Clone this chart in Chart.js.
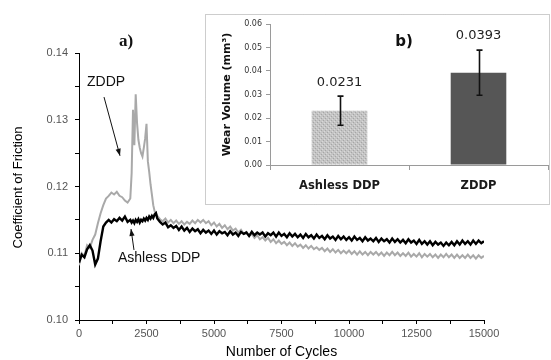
<!DOCTYPE html>
<html><head><meta charset="utf-8">
<script src="https://cdn.jsdelivr.net/npm/chart.js@4.4.0/dist/chart.umd.min.js"></script>
<style>
html,body{margin:0;padding:0;background:#fff;}
#wrap{position:relative;width:551px;height:360px;overflow:hidden;background:#fff;}
#main{position:absolute;left:0;top:0;}
#inset{position:absolute;left:205px;top:14px;}
</style></head><body>
<div id="wrap">
<canvas id="main" width="551" height="360"></canvas>
<canvas id="inset" width="346" height="192"></canvas>
</div>
<script>
// ---- panel a) : coefficient of friction vs number of cycles ----
const cycles = [
0,100,200,300,400,500,600,700,800,900,1000,1100,1200,1300,1400,1500,1600,1700,1800,1900,
1950,2000,2050,2100,2150,2200,2250,2300,2350,2400,2450,2500,2550,2600,2650,2700,2750,2800,2850,
2900,3000,3100,3200,3300,3400,3500,3600,3700,3800,
3900,4000,4100,4200,4300,4400,4500,4600,4700,4800,
4900,5000,5100,5200,5300,5400,5500,5600,5700,5800,
5900,6000,6100,6200,6300,6400,6500,6600,6700,6800,
6900,7000,7100,7200,7300,7400,7500,7600,7700,7800,
7900,8000,8100,8200,8300,8400,8500,8600,8700,8800,
8900,9000,9100,9200,9300,9400,9500,9600,9700,9800,
9900,10000,10100,10200,10300,10400,10500,10600,10700,10800,
10900,11000,11100,11200,11300,11400,11500,11600,11700,11800,
11900,12000,12100,12200,12300,12400,12500,12600,12700,12800,
12900,13000,13100,13200,13300,13400,13500,13600,13700,13800,
13900,14000,14100,14200,14300,14400,14500,14600,14700,14800,
14900,15000
];
const ashlessCof = [
0.1086,0.1098,0.1094,0.1106,0.1112,0.1104,0.1083,0.1092,0.1118,0.1140,0.1146,0.1150,0.1146,0.1151,0.1148,0.1153,0.1149,0.1155,0.1147,0.1150,
0.1146,0.1149,0.1145,0.1150,0.1147,0.1151,0.1146,0.1150,0.1148,0.1152,0.1149,0.1153,0.1150,0.1155,0.1152,0.1156,0.1153,0.1158,0.1160,
0.1152,0.1147,0.1143,0.1146,0.1139,0.1142,0.1138,0.1141,0.1135,0.1140,
0.1134,0.1138,0.1132,0.1137,0.1133,0.1136,0.1130,0.1135,0.1131,0.1134,
0.1129,0.1134,0.1128,0.1133,0.1130,0.1132,0.1127,0.1133,0.1128,0.1131,
0.1126,0.1132,0.1129,0.1131,0.1126,0.1132,0.1127,0.1131,0.1128,0.1131,
0.1125,0.1130,0.1127,0.1131,0.1125,0.1131,0.1126,0.1129,0.1124,0.1130,
0.1125,0.1129,0.1124,0.1128,0.1123,0.1129,0.1124,0.1127,0.1122,0.1128,
0.1123,0.1126,0.1121,0.1127,0.1122,0.1125,0.1120,0.1126,0.1121,0.1125,
0.1120,0.1124,0.1119,0.1125,0.1120,0.1123,0.1118,0.1124,0.1119,0.1122,
0.1118,0.1123,0.1117,0.1122,0.1118,0.1121,0.1116,0.1122,0.1117,0.1121,
0.1116,0.1120,0.1115,0.1121,0.1116,0.1119,0.1114,0.1120,0.1114,0.1118,
0.1113,0.1118,0.1112,0.1117,0.1113,0.1116,0.1111,0.1116,0.1112,0.1117,
0.1112,0.1118,0.1113,0.1119,0.1114,0.1118,0.1113,0.1119,0.1114,0.1119,
0.1115,0.1118
];
const zddpCof = [
0.1082,0.1100,0.1096,0.1112,0.1108,0.1120,0.1128,0.1145,0.1160,0.1172,0.1182,0.1186,0.1191,0.1188,0.1192,0.1186,0.1184,0.1179,0.1176,0.1182,
0.1220,0.1315,0.1262,0.1338,0.1295,0.1270,0.1258,0.1250,0.1245,0.1258,0.1272,0.1294,0.1238,0.1222,0.1203,0.1188,0.1172,0.1163,0.1160,
0.1156,0.1151,0.1148,0.1152,0.1146,0.1150,0.1145,0.1149,0.1144,0.1148,
0.1143,0.1147,0.1144,0.1149,0.1145,0.1150,0.1146,0.1150,0.1145,0.1148,
0.1142,0.1146,0.1140,0.1144,0.1138,0.1142,0.1136,0.1140,0.1134,0.1137,
0.1131,0.1135,0.1129,0.1132,0.1126,0.1129,0.1123,0.1127,0.1121,0.1124,
0.1119,0.1123,0.1117,0.1121,0.1115,0.1119,0.1114,0.1117,0.1112,0.1116,
0.1111,0.1115,0.1110,0.1113,0.1108,0.1112,0.1107,0.1111,0.1106,0.1109,
0.1105,0.1108,0.1103,0.1107,0.1102,0.1106,0.1101,0.1105,0.1100,0.1104,
0.1100,0.1104,0.1099,0.1103,0.1098,0.1103,0.1098,0.1102,0.1097,0.1102,
0.1098,0.1102,0.1097,0.1101,0.1096,0.1101,0.1097,0.1102,0.1097,0.1101,
0.1096,0.1100,0.1096,0.1101,0.1095,0.1099,0.1095,0.1100,0.1094,0.1099,
0.1095,0.1099,0.1094,0.1098,0.1093,0.1098,0.1094,0.1099,0.1094,0.1098,
0.1093,0.1098,0.1093,0.1097,0.1093,0.1098,0.1093,0.1097,0.1092,0.1097,
0.1093,0.1096
];
const seriesNames = ['Ashless DDP', 'ZDDP'];
const xAxisTitle = 'Number of Cycles';
const yAxisTitle = 'Coefficient of Friction';

// ---- panel b) : wear volume bars ----
const wearCategories = ['Ashless DDP', 'ZDDP'];
const wearVolume = [0.0231, 0.0393];
const wearError = [0.0062, 0.0096];
const wearAxisTitle = 'Wear Volume (mm\u00B3)';

// annotation anchors (data units of panel a)
const notes = {
  zddpText: {x: 296, y: 0.1357},
  zddpArrow: {x1: 926, y1: 0.1334, x2: 1518, y2: 0.1246},
  ashText: {x: 1444, y: 0.10929},
  ashArrow: {x1: 2037, y1: 0.11049, x2: 1926, y2: 0.11363},
  panel: {x: 1741, y: 0.14165}
};

function arrow(ctx, x1, y1, x2, y2) {
  ctx.beginPath(); ctx.moveTo(x1, y1); ctx.lineTo(x2, y2); ctx.stroke();
  const a = Math.atan2(y2 - y1, x2 - x1), L = 7, W = 2.6;
  ctx.beginPath();
  ctx.moveTo(x2, y2);
  ctx.lineTo(x2 - L*Math.cos(a) + W*Math.sin(a), y2 - L*Math.sin(a) - W*Math.cos(a));
  ctx.lineTo(x2 - L*Math.cos(a) - W*Math.sin(a), y2 - L*Math.sin(a) + W*Math.cos(a));
  ctx.closePath(); ctx.fill();
}

const mainPlugin = {
  id: 'mainDeco',
  beforeDraw(chart) {
    const c = chart.ctx; c.save(); c.fillStyle = '#fff'; c.fillRect(0, 0, chart.width, chart.height); c.restore();
  },
  afterDraw(chart) {
    const {ctx, chartArea, scales: {x, y}} = chart;
    const px = v => x.getPixelForValue(v), py = v => y.getPixelForValue(v);
    ctx.save();
    ctx.fillStyle = '#111'; ctx.strokeStyle = '#111'; ctx.lineWidth = 1;
    ctx.font = '14px "Liberation Sans", Arial, sans-serif';
    ctx.textBaseline = 'middle'; ctx.textAlign = 'left';
    ctx.fillText(seriesNames[1], px(notes.zddpText.x), py(notes.zddpText.y));
    ctx.fillText(seriesNames[0], px(notes.ashText.x), py(notes.ashText.y));
    arrow(ctx, px(notes.zddpArrow.x1), py(notes.zddpArrow.y1), px(notes.zddpArrow.x2), py(notes.zddpArrow.y2));
    arrow(ctx, px(notes.ashArrow.x1), py(notes.ashArrow.y1), px(notes.ashArrow.x2), py(notes.ashArrow.y2));
    ctx.font = 'bold 17px "Liberation Serif", "Times New Roman", serif';
    ctx.textAlign = 'center';
    ctx.fillText('a)', px(notes.panel.x), py(notes.panel.y));
    ctx.fillStyle = '#000';
    ctx.font = '13px "Liberation Sans", Arial, sans-serif';
    ctx.save();
    ctx.translate(18, (chartArea.top + chartArea.bottom) / 2 + 1);
    ctx.rotate(-Math.PI / 2);
    ctx.fillText(yAxisTitle, 0, 0);
    ctx.restore();
    ctx.font = '14px "Liberation Sans", Arial, sans-serif';
    ctx.fillText(xAxisTitle, (chartArea.left + chartArea.right) / 2, 352);
    ctx.restore();
  }
};

new Chart(document.getElementById('main').getContext('2d'), {
  type: 'line',
  data: {
    datasets: [
      {label: seriesNames[0], data: cycles.map((c, i) => ({x: c, y: ashlessCof[i]})),
       borderColor: '#000', borderWidth: 2.4, pointRadius: 0, tension: 0, fill: false},
      {label: seriesNames[1], data: cycles.map((c, i) => ({x: c, y: zddpCof[i]})),
       borderColor: '#a9a9a9', borderWidth: 2.0, pointRadius: 0, tension: 0, fill: false}
    ]
  },
  options: {
    responsive: false, animation: false, devicePixelRatio: 1,
    layout: {padding: {left: 0, right: 67, top: 53, bottom: 0}},
    plugins: {legend: {display: false}, tooltip: {enabled: false}},
    scales: {
      x: {
        type: 'linear', min: 0, max: 15000,
        afterFit(s) { s.height = 40; },
        border: {display: true, color: '#000', width: 1},
        grid: {display: true, drawOnChartArea: false, drawTicks: true, tickLength: 4, color: '#000'},
        ticks: {stepSize: 1250, maxTicksLimit: 30, autoSkip: false, maxRotation: 0, padding: 3, color: '#555',
          font: {family: '"Liberation Sans", Arial, sans-serif', size: 11},
          callback: v => (v % 2500 === 0 ? String(v) : '')}
      },
      y: {
        min: 0.10, max: 0.14,
        afterFit(s) { s.width = 79; },
        border: {display: true, color: '#000', width: 1},
        grid: {display: true, drawOnChartArea: false, drawTicks: true, tickLength: 4, color: '#000'},
        ticks: {stepSize: 0.005, maxTicksLimit: 30, autoSkip: false, padding: 7, color: '#555',
          font: {family: '"Liberation Sans", Arial, sans-serif', size: 11},
          callback: v => { const r = Math.round(v * 1000); return r % 10 === 0 ? (r / 1000).toFixed(2) : ''; }}
      }
    }
  },
  plugins: [mainPlugin]
});

// ---- inset ----
const ictx = document.getElementById('inset').getContext('2d');
const pc = document.createElement('canvas'); pc.width = 4; pc.height = 4;
const pcx = pc.getContext('2d');
pcx.fillStyle = '#c4c4c4'; pcx.fillRect(0, 0, 4, 4);
pcx.fillStyle = '#a6a6a6'; pcx.fillRect(0, 0, 1, 1); pcx.fillRect(2, 2, 1, 1);
pcx.fillStyle = '#d9d9d9'; pcx.fillRect(1, 3, 1, 1); pcx.fillRect(3, 1, 1, 1);
const ashPattern = ictx.createPattern(pc, 'repeat');

const insetPlugin = {
  id: 'insetDeco',
  beforeDraw(chart) {
    const c = chart.ctx;
    c.save();
    c.fillStyle = '#fff'; c.fillRect(0, 0, chart.width, chart.height);
    c.strokeStyle = '#9a9a9a'; c.lineWidth = 1; c.setLineDash([1, 1]);
    c.strokeRect(0.5, 0.5, chart.width - 2, chart.height - 2);
    c.restore();
  },
  afterDatasetsDraw(chart) {
    const {ctx, scales: {y}} = chart;
    const meta = chart.getDatasetMeta(0);
    ctx.save();
    ctx.strokeStyle = '#111'; ctx.lineWidth = 1.6;
    meta.data.forEach((bar, i) => {
      const xp = Math.round(bar.x) + 0.5;
      const top = y.getPixelForValue(wearVolume[i] + wearError[i]);
      const bot = y.getPixelForValue(wearVolume[i] - wearError[i]);
      ctx.beginPath();
      ctx.moveTo(xp, top); ctx.lineTo(xp, bot);
      ctx.moveTo(xp - 3, top); ctx.lineTo(xp + 3, top);
      ctx.moveTo(xp - 3, bot); ctx.lineTo(xp + 3, bot);
      ctx.stroke();
      ctx.fillStyle = '#222';
      ctx.font = '13px "DejaVu Sans", Verdana, sans-serif';
      ctx.textAlign = 'center'; ctx.textBaseline = 'middle';
      ctx.fillText(wearVolume[i].toFixed(4), bar.x, top - 14);
    });
    ctx.restore();
  },
  afterDraw(chart) {
    const {ctx, chartArea} = chart;
    ctx.save();
    ctx.fillStyle = '#111';
    ctx.font = 'bold 15px "DejaVu Sans", Verdana, sans-serif';
    ctx.textAlign = 'center'; ctx.textBaseline = 'middle';
    ctx.fillText('b)', 199, 28);
    ctx.font = 'bold 11px "DejaVu Sans", Verdana, sans-serif';
    ctx.translate(22, (chartArea.top + chartArea.bottom) / 2);
    ctx.rotate(-Math.PI / 2);
    ctx.fillText(wearAxisTitle, 0, 0);
    ctx.restore();
  }
};

new Chart(ictx, {
  type: 'bar',
  data: {
    labels: wearCategories,
    datasets: [{data: wearVolume, backgroundColor: [ashPattern, '#565656'], borderWidth: 0,
      barPercentage: 0.8, categoryPercentage: 0.5}]
  },
  options: {
    responsive: false, animation: false, devicePixelRatio: 1,
    layout: {padding: {left: 0, right: 3, top: 10, bottom: 0}},
    plugins: {legend: {display: false}, tooltip: {enabled: false}},
    scales: {
      x: {
        offset: true,
        afterFit(s) { s.height = 41; },
        border: {display: true, color: '#9a9a9a', width: 1},
        grid: {offset: true, drawOnChartArea: false, drawTicks: true, tickLength: 5, color: '#9a9a9a'},
        ticks: {padding: 9, color: '#1a1a1a', maxRotation: 0,
          font: {family: '"DejaVu Sans", Verdana, sans-serif', size: 11.5, weight: 'bold'}}
      },
      y: {
        min: 0, max: 0.06,
        afterFit(s) { s.width = 65; },
        border: {display: true, color: '#9a9a9a', width: 1},
        grid: {drawOnChartArea: false, drawTicks: true, tickLength: 4, color: '#9a9a9a'},
        ticks: {stepSize: 0.01, padding: 4, color: '#333',
          font: {family: '"DejaVu Sans", Verdana, sans-serif', size: 8},
          callback: v => Number(v).toFixed(2)}
      }
    }
  },
  plugins: [insetPlugin]
});
</script>
</body></html>
